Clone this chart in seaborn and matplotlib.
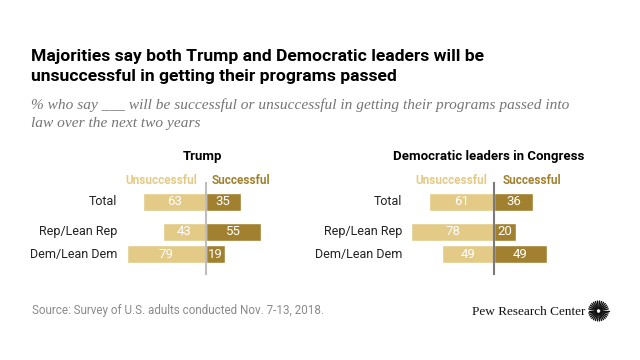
import numpy as np
import pandas as pd
import matplotlib
matplotlib.use("Agg")
import matplotlib.pyplot as plt
from matplotlib.lines import Line2D
import seaborn as sns

# ---- data ----
groups = ["Total", "Rep/Lean Rep", "Dem/Lean Dem"]
trump_unsuccessful = [63, 43, 79]
trump_successful = [35, 55, 19]
dem_unsuccessful = [61, 78, 49]
dem_successful = [36, 20, 49]
panel_titles = ["Trump", "Democratic leaders in Congress"]
header_labels = ["Unsuccessful", "Successful"]

title_lines = ["Majorities say both Trump and Democratic leaders will be",
               "unsuccessful in getting their programs passed"]
subtitle_lines = ["% who say ___ will be successful or unsuccessful in getting their programs passed into",
                  "law over the next two years"]
source = "Source: Survey of U.S. adults conducted Nov. 7-13, 2018."
brand = "Pew Research Center"

# ---- layout (pixel positions in a 640x360 canvas) ----
ROW_Y = [202, 232, 254.5]
C_UNS = "#E3CA87"
C_SUC = "#A1802F"

sns.set_theme(style="white")
plt.rcParams["font.family"] = ["Roboto", "DejaVu Sans"]

W, H = 640, 360
fig = plt.figure(figsize=(6.4, 3.6), dpi=100)
fig.patch.set_facecolor("white")


def fx(x):
    return x / W


def fy(y):
    return 1 - y / H


SANS = ["Roboto", "DejaVu Sans"]
SERIF = ["Liberation Serif", "DejaVu Serif"]

for line, yb in zip(title_lines, [61, 81]):
    fig.text(fx(31), fy(yb), line, fontsize=12.6, fontweight="bold",
             family=SANS, color="#000000", va="baseline", ha="left")
for line, yb in zip(subtitle_lines, [109, 127]):
    fig.text(fx(31), fy(yb), line, fontsize=11.1, style="italic",
             family=SERIF, color="#757575", va="baseline", ha="left")
fig.text(fx(32), fy(314), source, fontsize=8.4, family=SANS,
         color="#8a8a8a", va="baseline", ha="left")
fig.text(fx(585), fy(315), brand, fontsize=9.5, family=SERIF,
         color="#111111", va="baseline", ha="right")

# sunburst logo (decoration)
cx, cy = 598.5, 311
for a in np.linspace(0, 2 * np.pi, 30, endpoint=False):
    fig.add_artist(Line2D([fx(cx + 2.5 * np.cos(a)), fx(cx + 10 * np.cos(a))],
                          [fy(cy + 2.5 * np.sin(a)), fy(cy + 10 * np.sin(a))],
                          color="#111111", lw=1.0, transform=fig.transFigure))

panels = [
    dict(unsucc=trump_unsuccessful, succ=trump_successful, center=205.7,
         scale=1.0, title=panel_titles[0], title_x=202, label_x=117,
         uns_r=197, suc_l=212, line="#bdbdbd"),
    dict(unsucc=dem_unsuccessful, succ=dem_successful, center=494.3,
         scale=1.07, title=panel_titles[1], title_x=489, label_x=402,
         uns_r=487, suc_l=503, line="#7a7a7a"),
]

Y_TOP, Y_BOT = 150, 280
for p in panels:
    half = 100 * p["scale"]
    left = p["center"] - half
    ax = fig.add_axes([fx(left), fy(Y_BOT), (2 * half) / W, (Y_BOT - Y_TOP) / H])
    df = pd.DataFrame({
        "group": groups,
        "pos": ROW_Y,
        "uns": [-v for v in p["unsucc"]],
        "suc": p["succ"],
    })
    sns.barplot(data=df, x="uns", y="pos", orient="h", native_scale=True,
                color=C_UNS, saturation=1, width=0.8, errorbar=None, ax=ax)
    sns.barplot(data=df, x="suc", y="pos", orient="h", native_scale=True,
                color=C_SUC, saturation=1, width=0.8, errorbar=None, ax=ax)
    ax.set_xlim(-100, 100)
    ax.set_ylim(Y_BOT, Y_TOP)
    ax.set_axis_off()

    ax.bar_label(ax.containers[0], labels=[str(v) for v in p["unsucc"]],
                 label_type="center", color="white", fontsize=9.5)
    ax.bar_label(ax.containers[1], labels=[str(v) for v in p["succ"]],
                 label_type="center", color="white", fontsize=9.5)

    ax.vlines(0, 182, 275, color=p["line"], lw=1.5, zorder=5)

    def dx(px):
        return (px - p["center"]) / p["scale"]

    for g, y in zip(groups, ROW_Y):
        ax.text(dx(p["label_x"]), y, g, ha="right", va="center",
                fontsize=9, color="#222222")
    ax.text(dx(p["uns_r"]), 181, header_labels[0], ha="right", va="center",
            fontsize=8.5, fontweight="bold", color=C_UNS)
    ax.text(dx(p["suc_l"]), 181, header_labels[1], ha="left", va="center",
            fontsize=8.5, fontweight="bold", color=C_SUC)
    ax.text(dx(p["title_x"]), 157, p["title"], ha="center", va="center",
            fontsize=9.5, fontweight="bold", color="#000000", family=SANS)

fig.savefig("out.png", dpi=100, facecolor="white")
